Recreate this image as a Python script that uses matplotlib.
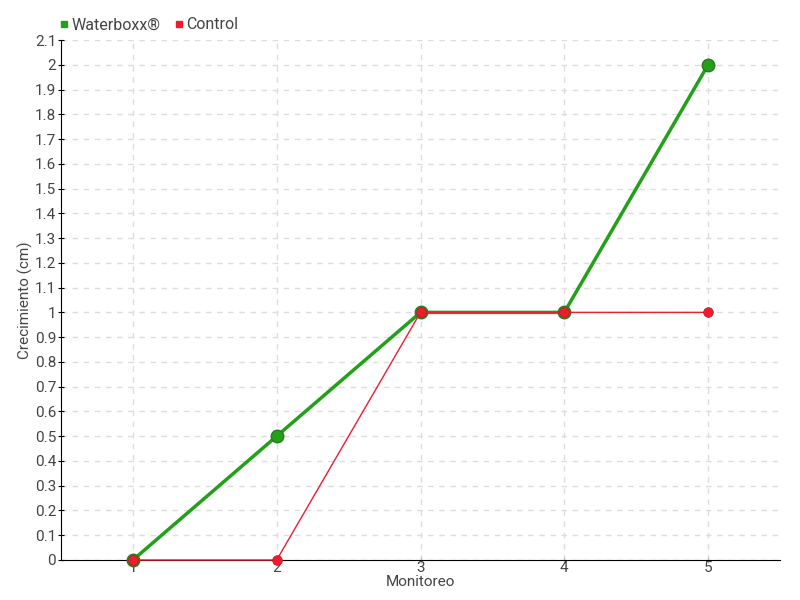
import matplotlib
matplotlib.use("Agg")
import matplotlib.pyplot as plt
from matplotlib.lines import Line2D

monitoreo = [1, 2, 3, 4, 5]
waterboxx = [0, 0.5, 1, 1, 2]
control = [0, 0, 1, 1, 1]
y_ticks = [round(i * 0.1, 1) for i in range(22)]
y_labels = ["0", "0.1", "0.2", "0.3", "0.4", "0.5", "0.6", "0.7", "0.8", "0.9", "1",
            "1.1", "1.2", "1.3", "1.4", "1.5", "1.6", "1.7", "1.8", "1.9", "2", "2.1"]

plt.rcParams['font.family'] = ['Roboto', 'DejaVu Sans']
txt = "#444444"
green = "#22a01a"
red = "#ee1c2e"

fig = plt.figure(figsize=(8, 6), dpi=100)
ax = fig.add_axes([0.07625, 0.0667, 0.89875, 0.8666])

ax.plot(monitoreo, waterboxx, color=green, lw=2.5, marker="o", ms=9,
        mfc=green, mec="#2a7a20", mew=1, zorder=3, clip_on=False)
ax.plot(monitoreo, control, color=red, lw=1, marker="o", ms=7,
        mfc=red, mec="#c8101e", mew=0.5, zorder=4, clip_on=False)

ax.set_xlim(0.5, 5.5)
ax.set_ylim(0, 2.1)
ax.set_xticks(monitoreo)
ax.set_xticklabels([str(m) for m in monitoreo])
ax.set_yticks(y_ticks)
ax.set_yticklabels(y_labels)
ax.tick_params(axis="y", direction="inout", length=5, labelsize=11, colors="black", labelcolor=txt, pad=1)
ax.tick_params(axis="x", direction="inout", length=5, labelsize=11, colors="#bbbbbb", labelcolor=txt, pad=-2)
ax.grid(True, ls=(0, (4, 4)), color="#dddddd", lw=1)
ax.set_axisbelow(True)
for s in ["top", "right"]:
    ax.spines[s].set_visible(False)
ax.spines["left"].set_color("black")
ax.spines["bottom"].set_color("black")

ax.set_xlabel("Monitoreo", fontsize=11, color=txt, labelpad=0)
ax.set_ylabel("Crecimiento (cm)", fontsize=11, color=txt, labelpad=1)

handles = [Line2D([], [], ls="", marker="s", ms=5, color=green),
           Line2D([], [], ls="", marker="s", ms=5, color=red)]
fig.legend(handles, ["Waterboxx®", "Control"], loc="upper left",
           bbox_to_anchor=(0.052, 0.995), ncol=2, frameon=False,
           handletextpad=0.0, columnspacing=0.6, handlelength=1.0,
           prop={"size": 11.5}, labelcolor=txt)

fig.savefig("out.png", dpi=100)
